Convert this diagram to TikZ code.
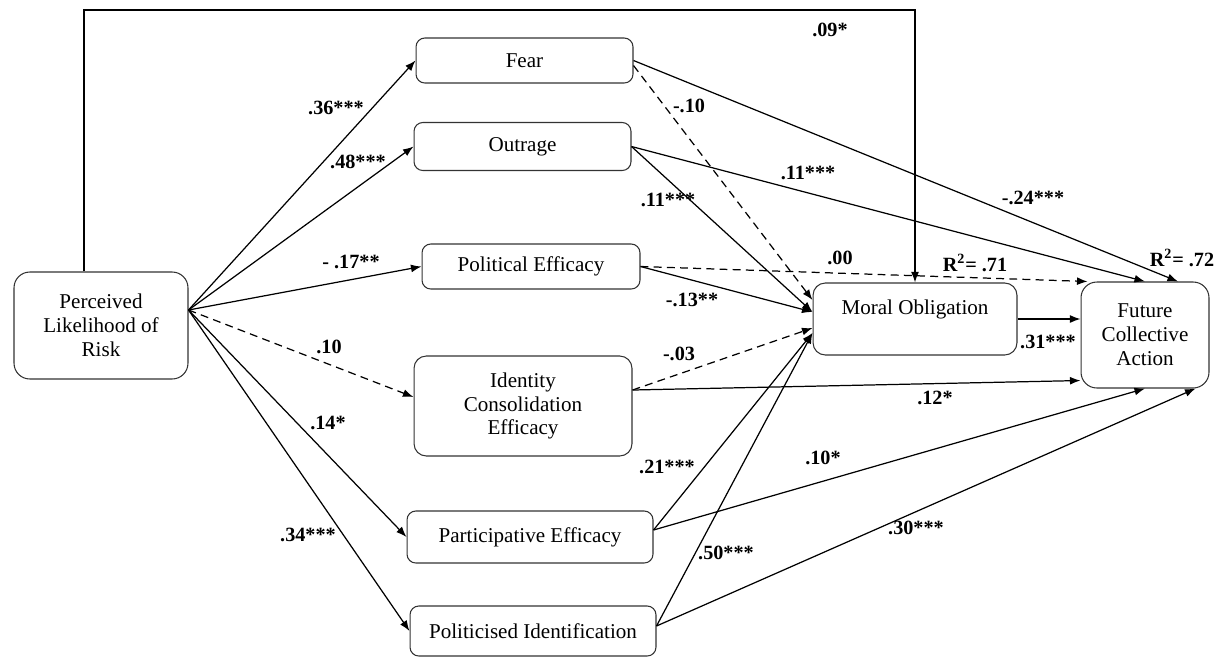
\documentclass[tikz,border=0pt]{standalone}
\usepackage{fontspec}
\setmainfont{Liberation Serif}
\usetikzlibrary{arrows.meta,positioning}

\begin{document}
\begin{tikzpicture}[x=0.02cm, y=-0.02cm, font=\fontsize{12}{13.6}\selectfont,
  var/.style={draw=black!80, line width=0.6pt, rounded corners=5pt, align=center, inner sep=2pt},
  arr/.style={-{Latex[length=6pt,width=4.5pt]}, line width=0.7pt},
  nsarr/.style={arr, dash pattern=on 4.5pt off 3pt},
  coef/.style={font=\fontsize{11.5}{13}\selectfont\bfseries, inner sep=1pt}]
\useasboundingbox (0,0) rectangle (1220,657);
% variables (coordinates in pixels of the original figure)
\node[var, minimum width=3.48cm, minimum height=2.14cm, rounded corners=9pt] (risk) at (101,325.5) {Perceived\\Likelihood of\\Risk};
\node[var, minimum width=4.34cm, minimum height=0.9cm] (fear) at (524.5,60.5) {Fear};
\node[var, minimum width=4.34cm, minimum height=0.96cm] (outrage) at (522.5,146.5) {Outrage};
\node[var, minimum width=4.36cm, minimum height=0.9cm] (poleff) at (531,266.5) {Political Efficacy};
\node[var, minimum width=4.36cm, minimum height=2cm, rounded corners=7pt] (ice) at (523,406) {Identity\\Consolidation\\Efficacy};
\node[var, minimum width=4.92cm, minimum height=1.04cm] (parteff) at (530,537) {Participative Efficacy};
\node[var, minimum width=4.92cm, minimum height=1cm] (polid) at (533,631) {Politicised Identification};
\node[var, minimum width=4.08cm, minimum height=1.44cm, rounded corners=7pt] (moral) at (915,319) {Moral Obligation\\ \mbox{}};
\node[var, minimum width=2.56cm, minimum height=2.12cm, rounded corners=9pt] (fca) at (1145,335) {Future\\Collective\\Action};
% risk -> mediators
\coordinate (rsrc) at ([yshift=0.31cm]risk.east);
\foreach \t in {fear,outrage,poleff,parteff,polid}
  \draw[arr] (rsrc) -- (\t.west);
\draw[nsarr] (rsrc) -- ([yshift=0.18cm]ice.west);
% direct path over the top
\coordinate (topline) at (0,10);
\draw[arr] ([xshift=-0.34cm]risk.north) |- (moral.north |- topline) -- (moral.north);
% mediators -> moral obligation
\draw[nsarr] ([yshift=-0.1cm]fear.east) -- ([yshift=0.38cm]moral.west);
\draw[arr] (outrage.east) -- ([yshift=0.14cm]moral.west);
\draw[arr] (poleff.east) -- ([yshift=0.14cm]moral.west);
\draw[nsarr] ([yshift=0.32cm]ice.east) -- ([yshift=-0.18cm]moral.west);
\draw[arr] ([yshift=0.14cm]parteff.east) -- ([yshift=-0.28cm]moral.west);
\draw[arr] ([yshift=0.1cm]polid.east) -- ([yshift=-0.28cm]moral.west);
% mediators -> future collective action
\draw[arr] (fear.east) -- ([xshift=0.66cm]fca.north);
\draw[arr] (outrage.east) -- (fca.north);
\draw[nsarr] (poleff.east) -- ([xshift=0.14cm]fca.north west);
\draw[arr] ([yshift=0.32cm]ice.east) -- ([yshift=0.16cm]fca.south west);
\draw[arr] ([yshift=0.14cm]parteff.east) -- (fca.south);
\draw[arr] ([yshift=0.1cm]polid.east) -- ([xshift=-0.28cm]fca.south east);
\draw[arr] (moral.east) -- (moral.east -| fca.west);
% coefficients
\foreach \n/\x/\y/\txt in {c36/336/108/.36***, c48/358/162/.48***, c17/351/262/- .17**, c10a/329/347/.10,
    c14/328/423/.14*, c34/308/535/.34***, c10b/689/106/-.10, c11a/668/200/.11***, c11b/808/173/.11***,
    c09/830/30/.09*, c24/1033/198/-.24***, c00/840/258/.00, c13/692/300/-.13**, c03/679/354/-.03,
    c31/1048/342/.31***, c12/935/398/.12*, c21/667/467/.21***, c10c/823/458/.10*, c50/726/553/.50***,
    c30/916/528/.30***}
  \node[coef] (\n) at (\x,\y) {\txt};
\node[coef] (r71) at (975,263) {R\textsuperscript{2}= .71};
\node[coef] (r72) at (1182,258) {R\textsuperscript{2}= .72};
\end{tikzpicture}
\end{document}
